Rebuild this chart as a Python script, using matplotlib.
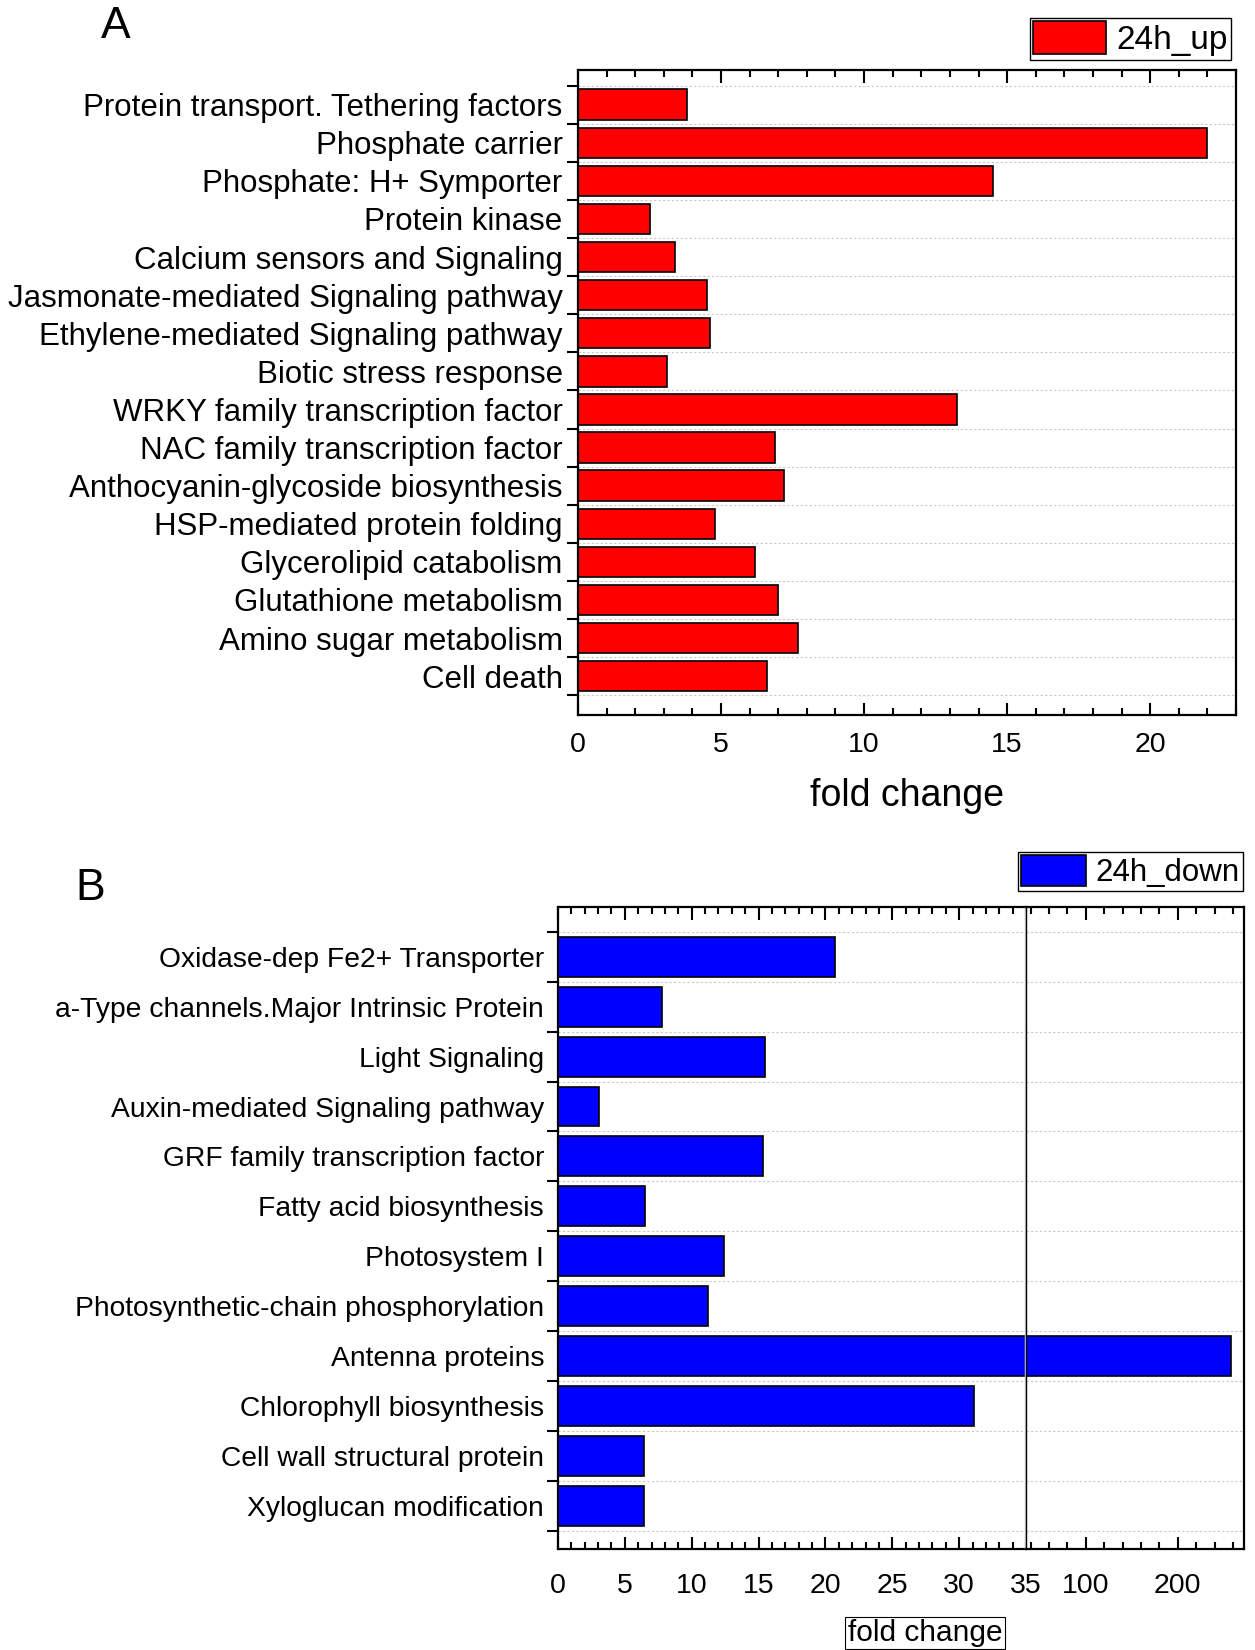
import numpy as np
import matplotlib
matplotlib.use('Agg')
import matplotlib.pyplot as plt

plt.rcParams['font.family'] = ['Liberation Sans', 'DejaVu Sans']

up_terms = ['Protein transport. Tethering factors', 'Phosphate carrier', 'Phosphate: H+ Symporter',
            'Protein kinase', 'Calcium sensors and Signaling', 'Jasmonate-mediated Signaling pathway',
            'Ethylene-mediated Signaling pathway', 'Biotic stress response', 'WRKY family transcription factor',
            'NAC family transcription factor', 'Anthocyanin-glycoside biosynthesis', 'HSP-mediated protein folding',
            'Glycerolipid catabolism', 'Glutathione metabolism', 'Amino sugar metabolism', 'Cell death']
up_fc = [3.8, 22.0, 14.5, 2.5, 3.4, 4.5, 4.6, 3.1, 13.25, 6.9, 7.2, 4.8, 6.2, 7.0, 7.7, 6.6]

down_terms = ['Oxidase-dep Fe2+ Transporter', 'a-Type channels.Major Intrinsic Protein', 'Light Signaling',
              'Auxin-mediated Signaling pathway', 'GRF family transcription factor', 'Fatty acid biosynthesis',
              'Photosystem I', 'Photosynthetic-chain phosphorylation', 'Antenna proteins',
              'Chlorophyll biosynthesis', 'Cell wall structural protein', 'Xyloglucan modification']
down_fc = [20.7, 7.8, 15.5, 3.1, 15.3, 6.5, 12.4, 11.2, 258, 31.1, 6.4, 6.45]

W, H = 1255, 1650
fig = plt.figure(figsize=(W / 100, H / 100), dpi=100)


def frame(ax, lw=1.6):
    for s in ax.spines.values():
        s.set_linewidth(lw)
        s.set_color('black')


def rows(ax, n, top, bottom):
    ax.set_ylim(n - 1 + bottom, -top)
    ax.set_yticks(np.arange(-0.5, n, 1))
    ax.grid(axis='y', which='major', linestyle=(0, (2, 2)), color='#c8c8c8', linewidth=0.8)
    ax.set_axisbelow(True)


# panel A
axA = fig.add_axes([578 / W, 1 - 715 / H, (1236 - 578) / W, (715 - 70) / H])
yA = np.arange(len(up_terms))
axA.barh(yA, up_fc, height=0.8, color='#ff0000', edgecolor='black', linewidth=1.2, label='24h_up')
axA.set_xlim(0, 23)
rows(axA, len(up_terms), 0.91, 1.02)
axA.set_yticks(yA, up_terms, minor=True)
axA.tick_params(axis='y', which='major', direction='out', length=8, width=1.5, labelleft=False)
axA.tick_params(axis='y', which='minor', length=0, pad=11, labelsize=22.5)
axA.set_xticks(np.arange(0, 21, 5))
axA.set_xticks(np.arange(0, 24, 1), minor=True)
axA.tick_params(axis='x', which='both', direction='in', top=True, bottom=True, width=1.5, labelsize=20.5, pad=12)
axA.tick_params(axis='x', which='major', length=9)
axA.tick_params(axis='x', which='minor', length=5)
axA.set_xlabel('fold change', fontsize=27, labelpad=15)
frame(axA)

legA = fig.legend(handles=axA.patches[:1], labels=['24h_up'], loc='upper right',
                  bbox_to_anchor=(1231 / W, 1 - 18 / H), fontsize=24, fancybox=False, edgecolor='black',
                  framealpha=1, handlelength=2.2, handleheight=1.15, borderpad=0.1, handletextpad=0.3,
                  borderaxespad=0)
legA.get_frame().set_linewidth(1.0)

# panel B, broken x axis at 35
bl, bb, bt = 558 / W, 1 - 1549 / H, 1 - 907 / H
brk, br = 1026 / W, 1244 / W
axL = fig.add_axes([bl, bb, brk - bl, bt - bb])
axR = fig.add_axes([brk, bb, br - brk, bt - bb])
yB = np.arange(len(down_terms))
for ax in (axL, axR):
    ax.barh(yB, down_fc, height=0.8, color='#0000ff', edgecolor='black', linewidth=1.2, label='24h_down')
    rows(ax, len(down_terms), 1.0, 0.87)
    frame(ax)
    ax.tick_params(axis='x', which='both', direction='in', top=True, bottom=True, width=1.5,
                   labelsize=20.5, pad=17)
    ax.tick_params(axis='x', which='major', length=9)
    ax.tick_params(axis='x', which='minor', length=5)

axL.set_xlim(0, 35)
axL.set_xticks(np.arange(0, 36, 5))
axL.set_xticks(np.arange(0, 36, 1), minor=True)
axL.set_yticks(yB, down_terms, minor=True)
axL.tick_params(axis='y', which='major', direction='out', length=8, width=1.5, labelleft=False)
axL.tick_params(axis='y', which='minor', length=0, pad=10, labelsize=20.3)
axL.spines['right'].set_visible(False)
axL.axvline(35, color='#d0d0d0', linewidth=2.5, zorder=3)

axR.set_xlim(35, 272)
axR.set_xticks([100, 200])
axR.set_xticks(np.arange(40, 272, 20), minor=True)
axR.tick_params(axis='y', which='both', left=False, labelleft=False)
axR.spines['left'].set_linewidth(1.0)

fig.text(925 / W, 1 - 1633 / H, 'fold change', ha='center', va='center', fontsize=21.5,
         bbox=dict(boxstyle='square,pad=0.08', fc='white', ec='black', lw=0.8))

legB = fig.legend(handles=axL.patches[:1], labels=['24h_down'], loc='upper right',
                  bbox_to_anchor=(1243 / W, 1 - 852 / H), fontsize=22.5, fancybox=False, edgecolor='black',
                  framealpha=1, handlelength=2.1, handleheight=1.15, borderpad=0.1, handletextpad=0.3,
                  borderaxespad=0)
legB.get_frame().set_linewidth(1.0)

fig.text(116 / W, 1 - 26 / H, 'A', ha='center', va='center', fontsize=32)
fig.text(90 / W, 1 - 889 / H, 'B', ha='center', va='center', fontsize=32)

fig.savefig('out.png', dpi=100, facecolor='white')
